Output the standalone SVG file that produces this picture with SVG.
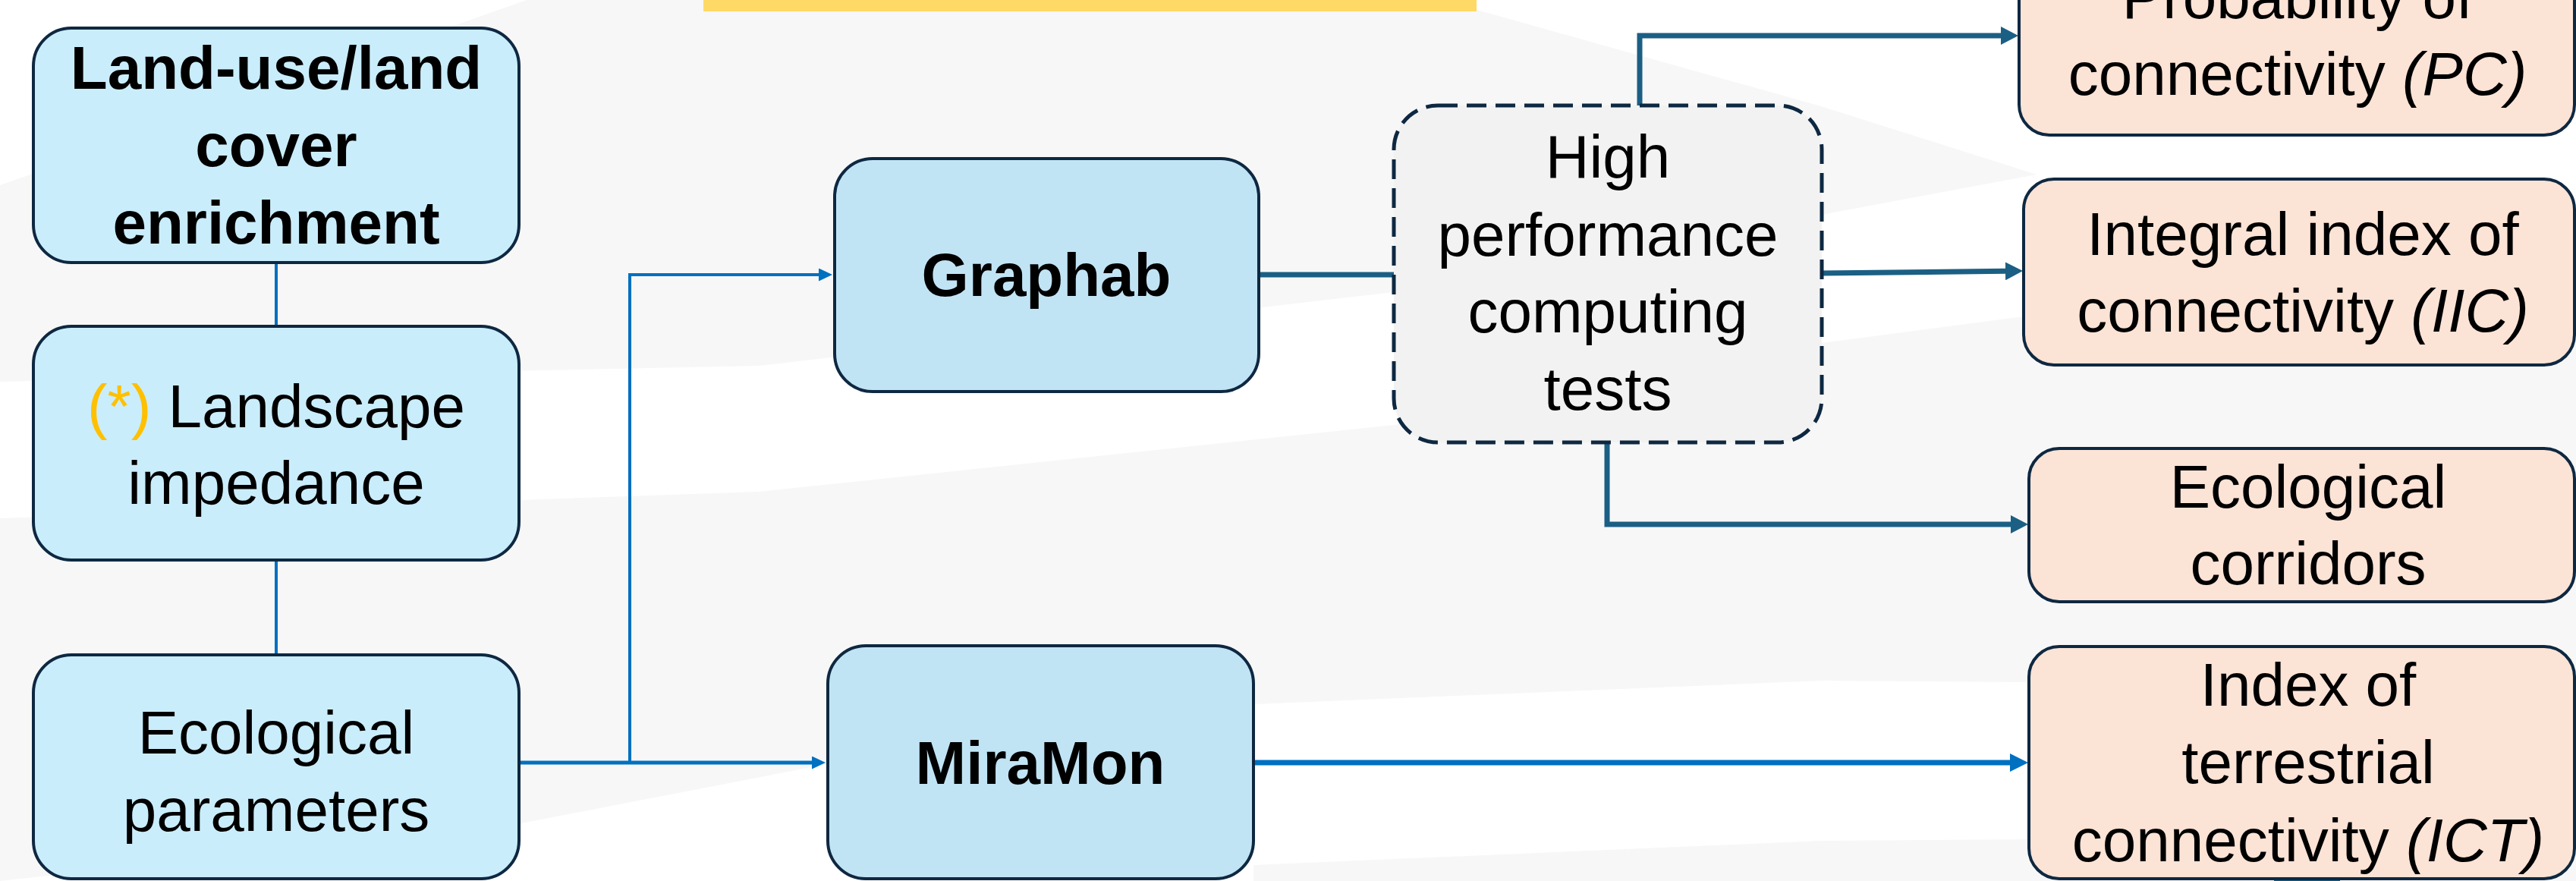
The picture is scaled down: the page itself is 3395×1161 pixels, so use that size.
<svg xmlns="http://www.w3.org/2000/svg" width="3395" height="1161" viewBox="0 0 3395 1161">
<style>
  .t { font-family: "Liberation Sans", Arial, sans-serif; font-size: 80px; fill: #000; text-anchor: middle; }
  .b { font-weight: bold; }
  .nl { fill: #caedfb; stroke: #0e2841; stroke-width: 4; }
  .nm { fill: #c1e4f5; stroke: #0e2841; stroke-width: 4; }
  .no { fill: #fbe3d6; stroke: #0e2841; stroke-width: 4; }
  .nh { fill: #f2f2f2; stroke: #0e2841; stroke-width: 5; stroke-dasharray: 26 12; }
  .cb { fill: none; stroke: #0070c0; }
  .ct { fill: none; stroke: #1b5f84; stroke-width: 7; }
  .bg { fill: #f7f7f7; stroke: none; }
</style>
<defs>
  <marker id="arrBS" markerUnits="userSpaceOnUse" markerWidth="18" markerHeight="17" refX="1" refY="8.5" orient="auto">
    <path d="M0,0 L18,8.5 L0,17 z" fill="#0070c0"/>
  </marker>
  <marker id="arrBL" markerUnits="userSpaceOnUse" markerWidth="24" markerHeight="24" refX="1" refY="12" orient="auto">
    <path d="M0,0 L24,12 L0,24 z" fill="#0070c0"/>
  </marker>
  <marker id="arrT" markerUnits="userSpaceOnUse" markerWidth="23" markerHeight="24" refX="1" refY="12" orient="auto">
    <path d="M0,0 L23,12 L0,24 z" fill="#1b5f84"/>
  </marker>
</defs>

<rect x="0" y="0" width="3395" height="1161" fill="#ffffff"/>
<g id="background">
  <polygon class="bg" points="0,244 694,0 1900,0 2400,140 2684,230 2401,283 1837,385 1000,482 0,503"/>
  <polygon class="bg" points="0,683 1000,648 1837,560 2401,452 2667,417 3395,417 3395,899 2674,899 2400,897 1652,928 1100,1005 687,1085 0,1161"/>
  <polygon class="bg" points="1652,1140 2400,1108 2680,1106 3395,1106 3395,1161 1652,1161"/>
  <rect x="927" y="0" width="1019" height="15" fill="#ffd966"/>
</g>

<g id="connectors">
  <line class="cb" stroke-width="4" x1="364" y1="346" x2="364" y2="430"/>
  <line class="cb" stroke-width="4" x1="364" y1="738" x2="364" y2="863"/>
  <path class="cb" stroke-width="5" d="M684,1005 H1071" marker-end="url(#arrBS)"/>
  <path class="cb" stroke-width="4" d="M830,1005 V362 H1080" marker-end="url(#arrBS)"/>
  <path class="cb" stroke-width="7" d="M1652,1005 H2650" marker-end="url(#arrBL)"/>
  <line class="ct" x1="1659" y1="362" x2="1837" y2="362"/>
  <path class="ct" d="M2161,139 V47 H2638" marker-end="url(#arrT)"/>
  <path class="ct" d="M2401,360 L2644,357.3" marker-end="url(#arrT)"/>
  <path class="ct" d="M2118,583 V691 H2651" marker-end="url(#arrT)"/>
  <rect x="2997" y="1153" width="87" height="8" fill="#1b5f84"/>
</g>

<g id="node-landuse">
  <rect class="nl" x="44" y="37" width="640" height="309" rx="50" ry="50"/>
  <text class="t b" x="364" y="117">Land-use/land</text>
  <text class="t b" x="364" y="219">cover</text>
  <text class="t b" x="364" y="321">enrichment</text>
</g>

<g id="node-impedance">
  <rect class="nl" x="44" y="430" width="640" height="308" rx="50" ry="50"/>
  <text class="t" x="364" y="563"><tspan fill="#ffc000">(*)</tspan> Landscape</text>
  <text class="t" x="364" y="664">impedance</text>
</g>

<g id="node-ecoparams">
  <rect class="nl" x="44" y="863" width="640" height="295" rx="50" ry="50"/>
  <text class="t" x="364" y="993">Ecological</text>
  <text class="t" x="364" y="1095">parameters</text>
</g>

<g id="node-graphab">
  <rect class="nm" x="1100" y="209" width="559" height="307" rx="50" ry="50"/>
  <text class="t b" x="1379" y="390">Graphab</text>
</g>

<g id="node-miramon">
  <rect class="nm" x="1091" y="851" width="561" height="307" rx="50" ry="50"/>
  <text class="t b" x="1371" y="1033">MiraMon</text>
</g>

<g id="node-hpc">
  <rect class="nh" x="1837" y="139" width="564" height="444" rx="58" ry="58"/>
  <text class="t" x="2119" y="234">High</text>
  <text class="t" x="2119" y="337">performance</text>
  <text class="t" x="2119" y="438">computing</text>
  <text class="t" x="2119" y="540">tests</text>
</g>

<g id="node-pc">
  <rect class="no" x="2661" y="-70" width="732" height="248" rx="40" ry="40"/>
  <text class="t" x="3028" y="24">Probability of</text>
  <text class="t" x="3028" y="125">connectivity <tspan font-style="italic">(PC)</tspan></text>
</g>

<g id="node-iic">
  <rect class="no" x="2667" y="236" width="726" height="245" rx="40" ry="40"/>
  <text class="t" x="3035" y="336">Integral index of</text>
  <text class="t" x="3035" y="437">connectivity <tspan font-style="italic">(IIC)</tspan></text>
</g>

<g id="node-corridors">
  <rect class="no" x="2674" y="591" width="719" height="202" rx="40" ry="40"/>
  <text class="t" x="3042" y="669">Ecological</text>
  <text class="t" x="3042" y="770">corridors</text>
</g>

<g id="node-ict">
  <rect class="no" x="2674" y="852" width="719" height="306" rx="40" ry="40"/>
  <text class="t" x="3042" y="930">Index of</text>
  <text class="t" x="3042" y="1032">terrestrial</text>
  <text class="t" x="3042" y="1135">connectivity <tspan font-style="italic">(ICT)</tspan></text>
</g>
</svg>
